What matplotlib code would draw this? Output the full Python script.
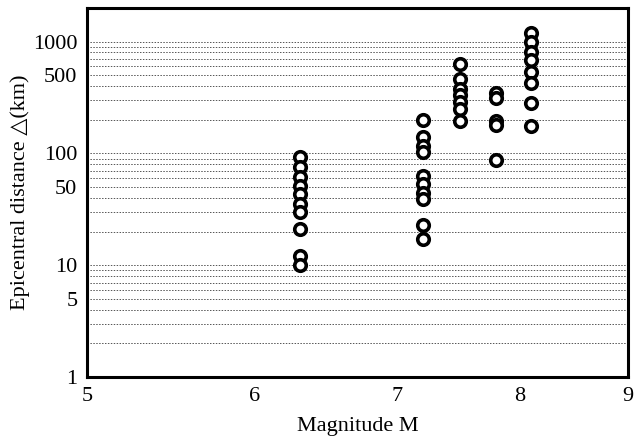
import matplotlib.pyplot as plt
from matplotlib.ticker import FixedLocator, FixedFormatter, NullLocator

# Epicentral distance of observed sites against earthquake magnitude
mag_63 = [6.3] * 10
dist_63 = [92, 75, 61, 51, 43, 35, 30, 21, 12, 10]
mag_72 = [7.2] * 10
dist_72 = [200, 139, 116, 102, 63, 53, 44, 39, 23, 17]
mag_75 = [7.5] * 7
dist_75 = [630, 460, 380, 330, 290, 250, 195]
mag_78 = [7.8] * 5
dist_78 = [350, 310, 195, 180, 87]
mag_81 = [8.1] * 8
dist_81 = [1200, 1000, 800, 680, 530, 430, 285, 176]

magnitude = mag_63 + mag_72 + mag_75 + mag_78 + mag_81
distance = dist_63 + dist_72 + dist_75 + dist_78 + dist_81

x_ticks = [5, 6, 7, 8, 9]
y_ticks = [1, 5, 10, 50, 100, 500, 1000]
y_grid = [m * 10 ** e for e in range(0, 4) for m in range(1, 10) if m * 10 ** e <= 1000]

SERIF = ["Liberation Serif", "DejaVu Serif"]
plt.rcParams["font.family"] = SERIF

fig = plt.figure(figsize=(6.4, 4.4), dpi=100)
ax = fig.add_axes([0.136, 0.143, 0.845, 0.839])

# dotted reference lines at every decade step
for v in y_grid:
    ax.axhline(v, color="#555555", lw=0.7, ls=(0, (1.5, 1.5)), zorder=0)

ax.plot(magnitude, distance, "o", ms=8.3, mfc="white", mec="black", mew=2.6,
        ls="none", zorder=3)

ax.set_xscale("log")
ax.set_yscale("log")
ax.set_xlim(5, 9)
ax.set_ylim(1, 2000)

ax.xaxis.set_major_locator(FixedLocator(x_ticks))
ax.xaxis.set_major_formatter(FixedFormatter([str(t) for t in x_ticks]))
ax.xaxis.set_minor_locator(NullLocator())
ax.yaxis.set_major_locator(FixedLocator(y_ticks))
ax.yaxis.set_major_formatter(FixedFormatter([str(t) for t in y_ticks]))
ax.yaxis.set_minor_locator(NullLocator())
ax.tick_params(length=0, labelsize=16, pad=7)

for side in ax.spines.values():
    side.set_linewidth(2.2)

ax.set_xlabel("Magnitude M", fontsize=16, labelpad=8)
ax.set_ylabel("Epicentral distance \u25b3(km)", fontsize=16, labelpad=2)

fig.savefig("out.png", dpi=100)
